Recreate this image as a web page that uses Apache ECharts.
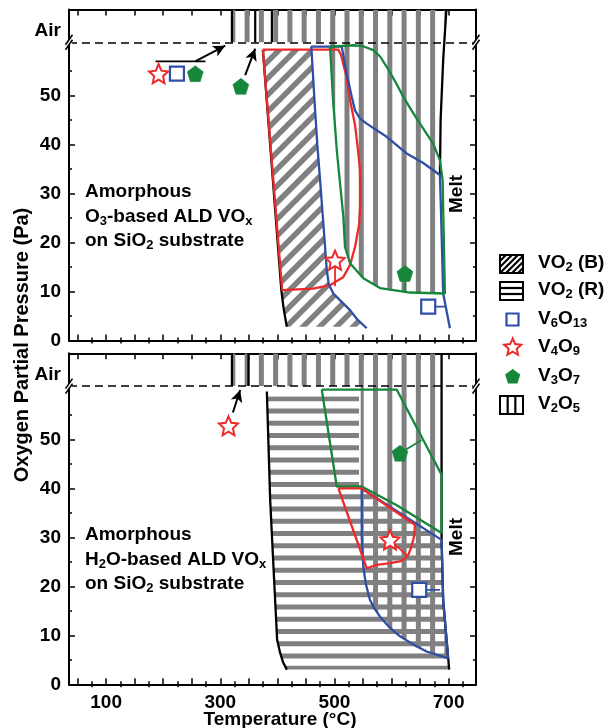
<!DOCTYPE html>
<html>
<head>
<meta charset="utf-8">
<script src="https://cdn.jsdelivr.net/npm/echarts@6/dist/echarts.min.js"></script>
<style>
  html, body { margin: 0; padding: 0; background: #fff; }
  #chart { width: 606px; height: 728px; }
</style>
</head>
<body>
<div id="chart"></div>
<script>
// ---- axes ----
const T_MIN = 35, T_MAX = 748;
const P_MIN = 0, P_MAX = 67.6;
const P_BREAK = 60.9;          // dashed line separating the "Air" strip
const P_AIR_LABEL = 63.2;
const xMajorTicks = [50, 100, 150, 200, 250, 300, 350, 400, 450, 500, 550, 600, 650, 700];
const xMinorTicks = [75, 125, 175, 225, 275, 325, 375, 425, 475, 525, 575, 625, 675, 725];
const xTickLabels = [100, 300, 500, 700];
const yMajorTicks = [0, 10, 20, 30, 40, 50];
const yMinorTicks = [5, 15, 25, 35, 45, 55];
const yTickLabels = [0, 10, 20, 30, 40, 50, P_AIR_LABEL];

// ---- O3-based ALD VOx (upper panel) ----
const o3Red = [[374.6,59.4],[506.9,59.4],[511.6,58.3],[520.4,54.2],[527.3,49.1],[536.1,44.0],[541.3,38.9],[544.8,34.8],[545.7,28.7],[543.1,23.6],[536.1,19.1],[527.3,15.4],[515.1,12.9],[492.3,11.3],[462.6,10.6],[408.4,10.3],[374.6,59.4]];
const o3Blue = [[556.6,2.5],[540,4.3],[527.3,6.2],[510,8.2],[498.1,9.6],[490,11.5],[486.6,14.4],[483,20],[480.1,24.6],[474.9,32.7],[470,40],[466.1,47.0],[459.5,60.0],[512.8,60.0],[521.5,54.5],[530.3,49.8],[536.0,47.0],[545,45.3],[556.5,44.3],[591.5,41.6],[626.5,38.2],[655,36.3],[684.8,33.8],[687,25],[690.5,9.6],[702.3,2.5]];
const o3Green = [[492.3,60.0],[533.1,60.3],[550,60.1],[568.1,59.3],[580,58],[591.5,55.9],[606,53],[620.6,49.8],[635,47],[649.8,44.3],[673.0,40.2],[684.8,36.8],[689.5,32.8],[693.5,9.6],[632.3,9.8],[579.8,10.7],[550.6,12.7],[527.3,15.8],[518.5,19.1],[515.6,25.3],[509.8,32.1],[504.1,38.9],[497.6,49.1],[492.3,60.0]];
const o3BlackLeft = [[374.6,59.4],[407,10.3],[411,6.5],[416.6,2.8]];
const o3BlackRight = [[696.1,P_MAX],[690.5,57.3],[686,45],[684.8,33.8]];
const o3AirLines = [320.4, 361.2, 390.4];
const o3VO2B = [[374.6,59.4],[459.5,59.4],[466.1,47.0],[470,40],[474.9,32.7],[480.1,24.6],[483,20],[486.6,14.4],[490,11.5],[498.1,9.6],[510,8.2],[527.3,6.2],[540,4.3],[556.6,2.8],[416.6,2.8],[411,6.5],[407,10.3]];
const o3V2O5 = [[320.4,P_MAX],[696.1,P_MAX],[690.5,57.3],[686,45],[684.8,33.8],[689.5,32.8],[693.5,9.6],[632.3,9.8],[579.8,10.7],[550.6,12.7],[527.3,15.8],[518.5,19.1],[515.6,25.3],[509.8,32.1],[504.1,38.9],[497.6,49.1],[492.3,60.0],[492.3,P_BREAK],[320.4,P_BREAK]];
const o3V6O13 = [[224.1,54.5],[664.3,6.9]];
const o3V4O9 = [[192.0,54.5],[501.1,16.4]];
const o3V3O7 = [[256.2,54.5],[336.1,51.9],[623.5,13.7]];
const o3Bracket = [[186.7,57.0],[274.2,57.0]];
const o3Arrows = [[[256.2,57.0],[308.7,60.2]], [[343.7,54.2],[361.2,59.6]]];
const o3Pointers = {
  red:   [[501.1,16.4],[501.1,11.1]],
  green: [[623.5,13.7],[623.5,10.0]],
  blue:  [[664.3,6.9],[693.5,6.9]]
};

// ---- H2O-based ALD VOx (lower panel) ----
const h2oRed = [[507.0,40.0],[547.8,40.0],[641.0,32.6],[640,30.5],[638.0,29.5],[634,27.8],[629.3,26.4],[622,25.6],[614.8,25.1],[595,24.7],[574.0,24.4],[556.5,23.7],[507.0,40.0]];
const h2oBlue = [[547.8,40.0],[687.7,29.5],[690.5,17.2],[699.3,5.3],[680,6.0],[661.5,6.7],[640,8.0],[614.8,9.8],[595,11.8],[579.8,13.8],[570,15.5],[562.3,17.2],[555,20.5],[550.6,24.0],[547.8,30],[547.8,40.0]];
const h2oGreen = [[477.8,60.2],[609.0,60.2],[687.7,42.8],[687.7,30.9],[610,36.5],[547.8,40.4],[504.1,40.4],[477.8,60.2]];
const h2oBlackLeft = [[381.6,59.8],[387.4,37.7],[393.2,24.0],[399.6,9.1],[404.9,6.4],[410,4.5],[416.6,3.0]];
const h2oBlackRight = [[687.7,P_MAX],[687.7,29.5],[690.5,17.2],[699.3,5.3],[701,3.0]];
const h2oAirLines = [320.4, 349.4];
const h2oVO2R = [[381.9,58.8],[543,58.8],[543,40.0],[547.8,40.0],[687.7,29.5],[690.5,17.2],[699.3,5.3],[701,3.0],[416.6,3.0],[410,4.5],[404.9,6.4],[399.6,9.1],[393.2,24.0],[387.4,37.7]];
const h2oV2O5 = [[320.4,P_MAX],[687.7,P_MAX],[687.7,29.5],[690.5,17.2],[699.3,5.3],[680,6.0],[661.5,6.7],[640,8.0],[614.8,9.8],[595,11.8],[579.8,13.8],[570,15.5],[562.3,17.2],[555,20.5],[550.6,24.0],[547.8,30],[546,40],[546,P_BREAK],[320.4,P_BREAK]];
const h2oV6O13 = [[648.5,19.3]];
const h2oV4O9 = [[314.4,52.8],[597.3,29.5]];
const h2oV3O7 = [[614.8,47.2]];
const h2oArrows = [[[322.1,55.5],[334.9,60.1]]];
const h2oPointers = {
  red:   [[597.3,29.5],[626.5,26.4]],
  green: [[614.8,47.2],[652.7,49.9]],
  blue:  [[648.5,19.3],[684.8,19.3]]
};

// ---- hatch spacing (data units) ----
const V_STRIPE_STEP = 25, V_STRIPE_PHASE = 22;    // vertical stripes every 25 °C
const H_STRIPE_STEP = 2.5, H_STRIPE_PHASE = 0.8;  // horizontal stripes every 2.5 Pa

// ---- style ----
const RED = '#ec2a2a', BLUE = '#2f4ea5', GREEN = '#16873a', GREY = '#808082';
const FONT = '"Liberation Sans", Arial, Helvetica, sans-serif';
const FS = 19;
const LW = 2.3;

const chart = echarts.init(document.getElementById('chart'), null, { renderer: 'canvas' });

const GRIDS = [
  { left: 69, top: 9.5, width: 407, height: 331 },
  { left: 69, top: 353.3, width: 407, height: 331 }
];

function xAxesFor(g) {
  const base = { type: 'value', gridIndex: g, min: T_MIN, max: T_MAX, splitLine: { show: false } };
  const line = { show: true, onZero: false, lineStyle: { color: '#000', width: 2 } };
  const lab = { show: g === 1, customValues: xTickLabels, color: '#000', fontSize: FS, fontWeight: 'bold', fontFamily: FONT, margin: 9 };
  return [
    Object.assign({}, base, { position: 'bottom', axisLine: line, axisTick: { inside: true, length: 6, customValues: xMajorTicks, lineStyle: { color: '#000', width: 1.5 } }, axisLabel: lab }),
    Object.assign({}, base, { position: 'bottom', axisLine: { show: false }, axisTick: { inside: true, length: 3, customValues: xMinorTicks, lineStyle: { color: '#000', width: 1.5 } }, axisLabel: { show: false } }),
    Object.assign({}, base, { position: 'top', axisLine: line, axisTick: { inside: true, length: 6, customValues: xMajorTicks, lineStyle: { color: '#000', width: 1.5 } }, axisLabel: { show: false } }),
    Object.assign({}, base, { position: 'top', axisLine: { show: false }, axisTick: { inside: true, length: 3, customValues: xMinorTicks, lineStyle: { color: '#000', width: 1.5 } }, axisLabel: { show: false } })
  ];
}
function yAxesFor(g) {
  const base = { type: 'value', gridIndex: g, min: P_MIN, max: P_MAX, splitLine: { show: false } };
  const line = { show: true, onZero: false, lineStyle: { color: '#000', width: 2 } };
  return [
    Object.assign({}, base, { position: 'left', axisLine: line,
      axisTick: { inside: true, length: 6, customValues: yMajorTicks, lineStyle: { color: '#000', width: 1.5 } },
      axisLabel: { show: true, customValues: yTickLabels, color: '#000', fontSize: FS, fontWeight: 'bold', fontFamily: FONT, margin: 8,
        formatter: v => (Math.abs(v - P_AIR_LABEL) < 1e-6 ? 'Air' : String(v)) } }),
    Object.assign({}, base, { position: 'left', axisLine: { show: false }, axisTick: { inside: true, length: 3, customValues: yMinorTicks, lineStyle: { color: '#000', width: 1.5 } }, axisLabel: { show: false } }),
    Object.assign({}, base, { position: 'right', axisLine: line, axisTick: { inside: true, length: 6, customValues: yMajorTicks, lineStyle: { color: '#000', width: 1.5 } }, axisLabel: { show: false } }),
    Object.assign({}, base, { position: 'right', axisLine: { show: false }, axisTick: { inside: true, length: 3, customValues: yMinorTicks, lineStyle: { color: '#000', width: 1.5 } }, axisLabel: { show: false } })
  ];
}

// hatched region: polygon clip + stripes generated along the axes
function hatchSeries(g, poly, kind) {
  return {
    type: 'custom', coordinateSystem: 'cartesian2d', xAxisIndex: g * 4, yAxisIndex: g * 4,
    data: [0], silent: true, z: 1, clip: true,
    renderItem: function (params, api) {
      const pts = poly.map(p => api.coord(p));
      const xs = pts.map(p => p[0]), ys = pts.map(p => p[1]);
      const x0 = Math.min(...xs), x1 = Math.max(...xs), y0 = Math.min(...ys), y1 = Math.max(...ys);
      const children = [];
      if (kind === 'v') {
        const tStart = Math.floor((T_MIN - V_STRIPE_PHASE) / V_STRIPE_STEP) * V_STRIPE_STEP + V_STRIPE_PHASE;
        for (let t = tStart; t <= T_MAX; t += V_STRIPE_STEP) {
          const cx = api.coord([t, 0])[0];
          if (cx < x0 - 5 || cx > x1 + 5) continue;
          children.push({ type: 'rect', shape: { x: cx - 2.5, y: y0, width: 5, height: y1 - y0 }, style: { fill: GREY } });
        }
      } else if (kind === 'h') {
        for (let p = H_STRIPE_PHASE; p <= P_MAX; p += H_STRIPE_STEP) {
          const cy = api.coord([T_MIN, p])[1];
          if (cy < y0 - 5 || cy > y1 + 5) continue;
          children.push({ type: 'rect', shape: { x: x0, y: cy - 2.5, width: x1 - x0, height: 5 }, style: { fill: GREY } });
        }
      } else {
        const step = 16.7;
        for (let c = x0 + y0 - 2 * step; c <= x1 + y1 + step; c += step) {
          children.push({ type: 'line', shape: { x1: c - y1 - 10, y1: y1 + 10, x2: c - y0 + 10, y2: y0 - 10 }, style: { stroke: GREY, lineWidth: 5.5 } });
        }
      }
      return { type: 'group', clipPath: { type: 'polygon', shape: { points: pts } }, children: children };
    }
  };
}

function curve(g, data, color, width, z) {
  return { type: 'line', xAxisIndex: g * 4, yAxisIndex: g * 4, data: data, symbol: 'none', silent: true,
    lineStyle: { color: color, width: width || LW }, z: z || 3, animation: false };
}
function vLines(g, temps) {
  return temps.map(t => curve(g, [[t, P_BREAK], [t, P_MAX]], '#000', 2.2, 3));
}
function arrow(g, seg) {
  return { type: 'line', xAxisIndex: g * 4, yAxisIndex: g * 4, data: [], silent: true,
    markLine: { silent: true, symbol: ['none', 'arrow'], symbolSize: [9, 12], animation: false,
      lineStyle: { color: '#000', width: 2, type: 'solid' }, label: { show: false },
      data: [[{ coord: seg[0] }, { coord: seg[1] }]] } };
}
function dashed(g) {
  return { type: 'line', xAxisIndex: g * 4, yAxisIndex: g * 4, data: [], silent: true, z: 4,
    markLine: { silent: true, symbol: ['none', 'none'], animation: false, label: { show: false },
      lineStyle: { color: '#000', width: 1.6, type: [8, 5] }, data: [{ yAxis: P_BREAK }] } };
}

function starPath() {
  let d = '';
  for (let i = 0; i < 10; i++) {
    const r = i % 2 === 0 ? 1 : 0.47;
    const a = -Math.PI / 2 + i * Math.PI / 5;
    d += (i === 0 ? 'M' : 'L') + (r * Math.cos(a)).toFixed(3) + ',' + (r * Math.sin(a)).toFixed(3);
  }
  return d + 'Z';
}
function pentPath() {
  let d = '';
  for (let i = 0; i < 5; i++) {
    const a = -Math.PI / 2 + i * 2 * Math.PI / 5;
    d += (i === 0 ? 'M' : 'L') + Math.cos(a).toFixed(3) + ',' + Math.sin(a).toFixed(3);
  }
  return d + 'Z';
}
const STAR = 'path://' + starPath();
const PENT = 'path://' + pentPath();

function markers(g, data, kind) {
  const cfg = {
    square: { symbol: 'rect', size: 14, itemStyle: { color: '#fff', borderColor: BLUE, borderWidth: 2.2, opacity: 1 } },
    star:   { symbol: STAR, size: 19, itemStyle: { color: '#fff', borderColor: RED, borderWidth: 2, opacity: 1 } },
    pent:   { symbol: PENT, size: 16, itemStyle: { color: GREEN, borderColor: GREEN, borderWidth: 0.5, opacity: 1 } }
  }[kind];
  return { type: 'scatter', xAxisIndex: g * 4, yAxisIndex: g * 4, data: data, symbol: cfg.symbol, symbolSize: cfg.size,
    itemStyle: cfg.itemStyle, z: 6, silent: true, animation: false };
}

const series = [
  // upper panel
  hatchSeries(0, o3VO2B, 'd'),
  hatchSeries(0, o3V2O5, 'v'),
  dashed(0),
  curve(0, o3BlackLeft, '#000'),
  curve(0, o3BlackRight, '#000'),
  ...vLines(0, o3AirLines),
  curve(0, o3Red, RED),
  curve(0, o3Blue, BLUE),
  curve(0, o3Green, GREEN),
  curve(0, o3Bracket, '#000', 1.8),
  curve(0, o3Pointers.red, RED, 1.8),
  curve(0, o3Pointers.green, GREEN, 1.8),
  curve(0, o3Pointers.blue, BLUE, 1.8),
  ...o3Arrows.map(a => arrow(0, a)),
  markers(0, o3V6O13, 'square'),
  markers(0, o3V4O9, 'star'),
  markers(0, o3V3O7, 'pent'),
  // lower panel
  hatchSeries(1, h2oVO2R, 'h'),
  hatchSeries(1, h2oV2O5, 'v'),
  dashed(1),
  curve(1, h2oBlackLeft, '#000'),
  curve(1, h2oBlackRight, '#000'),
  ...vLines(1, h2oAirLines),
  curve(1, h2oGreen, GREEN),
  curve(1, h2oBlue, BLUE),
  curve(1, h2oRed, RED),
  curve(1, h2oPointers.red, RED, 1.8),
  curve(1, h2oPointers.green, GREEN, 1.8),
  curve(1, h2oPointers.blue, BLUE, 1.8),
  ...h2oArrows.map(a => arrow(1, a)),
  markers(1, h2oV6O13, 'square'),
  markers(1, h2oV4O9, 'star'),
  markers(1, h2oV3O7, 'pent')
];

chart.setOption({
  animation: false,
  grid: GRIDS,
  xAxis: [...xAxesFor(0), ...xAxesFor(1)],
  yAxis: [...yAxesFor(0), ...yAxesFor(1)],
  series: series
});

// ---- decorations: texts, legend, axis breaks ----
const rich = {
  n: { fontSize: FS, fontWeight: 'bold', fontFamily: FONT, fill: '#000', lineHeight: 22 },
  s: { fontSize: 13, fontWeight: 'bold', fontFamily: FONT, fill: '#000', lineHeight: 9, verticalAlign: 'bottom' }
};
function rt(parts) { return parts.map(p => (p[0] === '_' ? '{s|' + p.slice(1) + '}' : '{n|' + p + '}')).join(''); }
function textEl(x, y, parts, extra) {
  return Object.assign({ type: 'text', x: x, y: y, silent: true,
    style: { text: rt(parts), rich: rich, align: 'left', verticalAlign: 'middle' } }, extra || {});
}

function iconCanvas(kind) {
  const c = document.createElement('canvas');
  c.width = 25; c.height = 20;
  const ctx = c.getContext('2d');
  ctx.strokeStyle = '#000';
  const x0 = 1, y0 = 1, w = 23, h = 18;
  ctx.save();
  ctx.beginPath(); ctx.rect(x0, y0, w, h); ctx.clip();
  ctx.lineWidth = 2.2;
  if (kind === 'd') {
    for (let k = -30; k < 60; k += 6) { ctx.beginPath(); ctx.moveTo(x0 + k, y0 + h); ctx.lineTo(x0 + k + h, y0); ctx.stroke(); }
  } else if (kind === 'h') {
    for (let k = 1; k < 3; k++) { const y = y0 + k * h / 3; ctx.beginPath(); ctx.moveTo(x0, y); ctx.lineTo(x0 + w, y); ctx.stroke(); }
  } else {
    for (let k = 1; k < 3; k++) { const x = x0 + k * w / 3; ctx.beginPath(); ctx.moveTo(x, y0); ctx.lineTo(x, y0 + h); ctx.stroke(); }
  }
  ctx.restore();
  ctx.lineWidth = 2;
  ctx.strokeRect(x0, y0, w, h);
  return c;
}
function polyPts(cx, cy, r, n, inner) {
  const pts = [];
  const m = inner ? n * 2 : n;
  for (let i = 0; i < m; i++) {
    const rr = inner && i % 2 === 1 ? r * inner : r;
    const a = -Math.PI / 2 + i * 2 * Math.PI / m;
    pts.push([cx + rr * Math.cos(a), cy + rr * Math.sin(a)]);
  }
  return pts;
}

function breakMarks() {
  const els = [];
  [0, 1].forEach(g => {
    [T_MIN, T_MAX].forEach(t => {
      const p = chart.convertToPixel({ xAxisIndex: g * 4, yAxisIndex: g * 4 }, [t, P_BREAK]);
      els.push({ type: 'rect', shape: { x: p[0] - 3, y: p[1] - 2.5, width: 6, height: 5 }, style: { fill: '#fff' }, z: 100, silent: true });
      [-2.5, 2.5].forEach(dy => els.push({ type: 'line', z: 101, silent: true,
        shape: { x1: p[0] - 3.5, y1: p[1] + dy + 5, x2: p[0] + 3.5, y2: p[1] + dy - 5 }, style: { stroke: '#000', lineWidth: 1.6 } }));
    });
  });
  return els;
}

const LX = 500, LT = 538;
chart.setOption({
  graphic: [
    textEl(85, 192, ['Amorphous']),
    textEl(85, 216.5, ['O', '_3', '-based ALD VO', '_x']),
    textEl(85, 241, ['on SiO', '_2', ' substrate']),
    textEl(85, 535, ['Amorphous']),
    textEl(85, 559.5, ['H', '_2', 'O-based ALD VO', '_x']),
    textEl(85, 584, ['on SiO', '_2', ' substrate']),
    { type: 'text', x: 457, y: 194, rotation: Math.PI / 2, silent: true,
      style: { text: 'Melt', font: 'bold 19px ' + FONT, fill: '#000', align: 'center', verticalAlign: 'middle' } },
    { type: 'text', x: 457, y: 537, rotation: Math.PI / 2, silent: true,
      style: { text: 'Melt', font: 'bold 19px ' + FONT, fill: '#000', align: 'center', verticalAlign: 'middle' } },
    { type: 'text', x: 280, y: 720, silent: true,
      style: { text: 'Temperature (°C)', font: 'bold 19px ' + FONT, fill: '#000', align: 'center', verticalAlign: 'middle' } },
    { type: 'text', x: 22, y: 345, rotation: Math.PI / 2, silent: true,
      style: { text: 'Oxygen Partial Pressure (Pa)', font: 'bold 20px ' + FONT, fill: '#000', align: 'center', verticalAlign: 'middle' } },
    // legend
    { type: 'image', x: LX - 1, y: 254, silent: true, style: { image: iconCanvas('d'), width: 25, height: 20 } },
    textEl(LT, 263, ['VO', '_2', ' (B)']),
    { type: 'image', x: LX - 1, y: 281, silent: true, style: { image: iconCanvas('h'), width: 25, height: 20 } },
    textEl(LT, 290, ['VO', '_2', ' (R)']),
    { type: 'rect', silent: true, shape: { x: 506.5, y: 313.5, width: 12, height: 12 }, style: { fill: '#fff', stroke: BLUE, lineWidth: 2.2 } },
    textEl(LT, 319, ['V', '_6', 'O', '_13']),
    { type: 'polygon', silent: true, shape: { points: polyPts(512.7, 347.5, 9, 5, 0.47) }, style: { fill: '#fff', stroke: RED, lineWidth: 2 } },
    textEl(LT, 347, ['V', '_4', 'O', '_9']),
    { type: 'polygon', silent: true, shape: { points: polyPts(512.7, 377, 8, 5) }, style: { fill: GREEN } },
    textEl(LT, 376, ['V', '_3', 'O', '_7']),
    { type: 'image', x: LX - 1, y: 395, silent: true, style: { image: iconCanvas('v'), width: 25, height: 20 } },
    textEl(LT, 404, ['V', '_2', 'O', '_5']),
    ...breakMarks()
  ]
});
</script>
</body>
</html>
